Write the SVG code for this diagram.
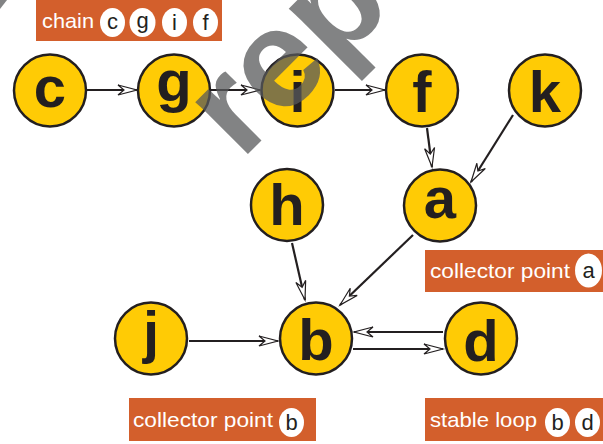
<svg xmlns="http://www.w3.org/2000/svg" width="603" height="444" viewBox="0 0 603 444">
<style>
.node circle{fill:#ffcb05;stroke:#231f20;stroke-width:2.5}
.node text{font-family:"Liberation Sans",Arial,sans-serif;font-weight:bold;font-size:58px;fill:#231f20;text-anchor:middle}
.edge{stroke:#231f20;stroke-width:2.2;fill:none;marker-end:url(#arr)}
.lab rect{fill:#d35f2c}
.lab .t{font-family:"Liberation Sans",Arial,sans-serif;font-size:21px;fill:#ffffff}
.lab ellipse{fill:#ffffff}
.lab .b{font-family:"Liberation Sans",Arial,sans-serif;font-size:22px;fill:#231f20;text-anchor:middle}
.wm{font-family:"Liberation Sans",Arial,sans-serif;font-weight:bold;font-size:140px;fill:#58595b;fill-opacity:0.75}
</style>
<defs>
<marker id="arr" markerUnits="userSpaceOnUse" markerWidth="24" markerHeight="14" viewBox="-20 -7 22 14" refX="0" refY="0" orient="auto">
<path d="M-19,-5 L0,0 L-19,5 L-13,0 Z" fill="#ffffff" stroke="#231f20" stroke-width="1.2" stroke-linejoin="miter"/>
</marker>
</defs>
<rect width="603" height="444" fill="#ffffff"/>

<g id="label-chain" class="lab">
<rect x="36" y="0" width="186" height="41"/>
<text class="t" x="42" y="27.5" textLength="52" lengthAdjust="spacingAndGlyphs">chain</text>
<ellipse cx="112.5" cy="22.5" rx="12.5" ry="14.5"/>
<text class="b" x="112.5" y="29">c</text>
<ellipse cx="142.5" cy="22.5" rx="13" ry="14.5"/>
<text class="b" x="142.5" y="28">g</text>
<ellipse cx="174.5" cy="22.5" rx="12.5" ry="14.5"/>
<text class="b" x="174.5" y="30">i</text>
<ellipse cx="205.5" cy="22.5" rx="12.5" ry="14.5"/>
<text class="b" x="205.5" y="30">f</text>
</g>

<g id="connectors">
<line class="edge" x1="87" y1="90" x2="137" y2="90"/>
<line class="edge" x1="211" y1="90" x2="260" y2="90"/>
<line class="edge" x1="335" y1="90" x2="385" y2="90"/>
<line class="edge" x1="427" y1="128" x2="432" y2="167"/>
<line class="edge" x1="513" y1="115" x2="471" y2="182"/>
<line class="edge" x1="292" y1="243" x2="305" y2="300"/>
<line class="edge" x1="413" y1="235" x2="340" y2="305"/>
<line class="edge" x1="189" y1="341" x2="278" y2="341"/>
<line class="edge" x1="443" y1="332" x2="354" y2="332"/>
<line class="edge" x1="353" y1="349" x2="443" y2="349"/>
</g>

<g id="node-c" class="node"><circle cx="50" cy="90.5" r="36"/><text x="50" y="106.5">c</text></g>
<g id="node-g" class="node"><circle cx="174" cy="90.5" r="36"/><text x="174" y="101">g</text></g>
<g id="node-i" class="node"><circle cx="297.5" cy="90.5" r="36"/><text x="297.5" y="112">i</text></g>
<g id="node-f" class="node"><circle cx="422" cy="90.5" r="36"/><text x="422" y="112">f</text></g>
<g id="node-k" class="node"><circle cx="545" cy="90.5" r="36"/><text x="545" y="112">k</text></g>
<g id="node-a" class="node"><circle cx="440" cy="205.5" r="36"/><text x="440" y="218">a</text></g>
<g id="node-h" class="node"><circle cx="287" cy="205" r="36"/><text x="287" y="225">h</text></g>
<g id="node-j" class="node"><circle cx="151" cy="338.5" r="36"/><text x="151" y="351.5">j</text></g>
<g id="node-b" class="node"><circle cx="316" cy="338.5" r="36"/><text x="316" y="360">b</text></g>
<g id="node-d" class="node"><circle cx="481" cy="338.5" r="36"/><text x="481" y="361">d</text></g>

<g id="label-collector-a" class="lab">
<rect x="425" y="250" width="178" height="42"/>
<text class="t" x="430" y="278" textLength="140" lengthAdjust="spacingAndGlyphs">collector point</text>
<ellipse cx="588.5" cy="270.5" rx="13.5" ry="17"/>
<text class="b" x="588.5" y="277.5">a</text>
</g>
<g id="label-collector-b" class="lab">
<rect x="129" y="398" width="187" height="43"/>
<text class="t" x="133" y="427" textLength="140" lengthAdjust="spacingAndGlyphs">collector point</text>
<ellipse cx="291.5" cy="422.5" rx="12.5" ry="14.5"/>
<text class="b" x="291.5" y="430">b</text>
</g>
<g id="label-stable-loop" class="lab">
<rect x="425" y="398" width="178" height="43"/>
<text class="t" x="430" y="427" textLength="107" lengthAdjust="spacingAndGlyphs">stable loop</text>
<ellipse cx="557.5" cy="422.5" rx="12.5" ry="14.5"/>
<text class="b" x="557.5" y="430">b</text>
<ellipse cx="587.5" cy="422.5" rx="12.5" ry="14.5"/>
<text class="b" x="587.5" y="430">d</text>
</g>

<g id="watermark">
<text class="wm" transform="translate(241,161) rotate(-45)">rep</text>
<polygon points="0,0 7,0 0,9" fill="#58595b" fill-opacity="0.75"/>
</g>
</svg>
